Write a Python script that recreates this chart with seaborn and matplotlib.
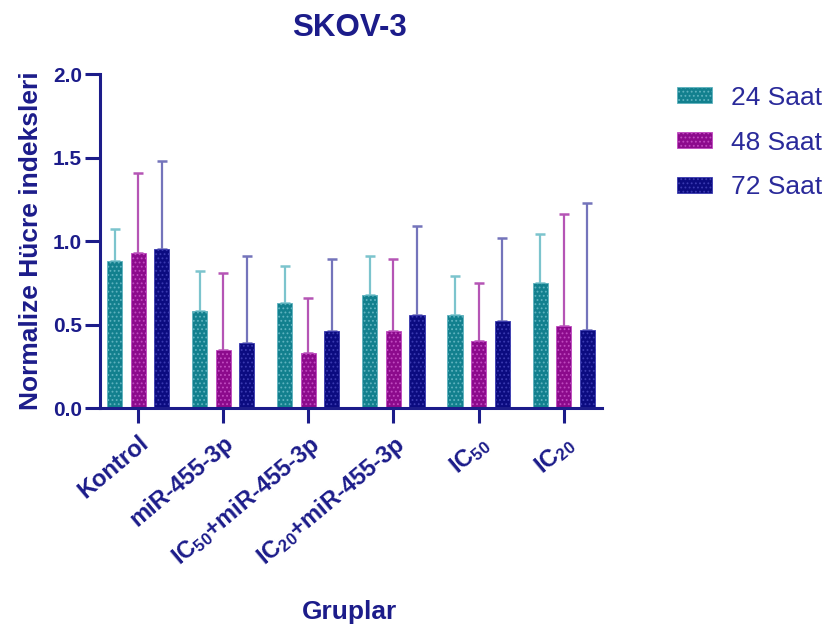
import numpy as np
import pandas as pd
import matplotlib
matplotlib.use("Agg")
import matplotlib.pyplot as plt
import seaborn as sns

# Groups, time points and measured values (mean and upper SD)
groups = ["Kontrol", "miR-455-3p", "IC$_{50}$+miR-455-3p",
          "IC$_{20}$+miR-455-3p", "IC$_{50}$", "IC$_{20}$"]
times = ["24 Saat", "48 Saat", "72 Saat"]

mean_24 = [0.88, 0.58, 0.63, 0.68, 0.56, 0.75]
mean_48 = [0.93, 0.35, 0.33, 0.46, 0.40, 0.49]
mean_72 = [0.95, 0.39, 0.46, 0.56, 0.52, 0.47]

sd_24 = [0.19, 0.24, 0.22, 0.23, 0.23, 0.29]
sd_48 = [0.48, 0.46, 0.33, 0.43, 0.35, 0.67]
sd_72 = [0.53, 0.52, 0.43, 0.53, 0.50, 0.76]

y_ticks = [0.0, 0.5, 1.0, 1.5, 2.0]

bar_colors = ["#12808e", "#8c0a8c", "#0b0b80"]
light_colors = ["#5fb3bf", "#c04ac0", "#3a3ab0"]
err_colors = ["#7cc4cd", "#b555b5", "#7474bb"]
ink = "#1c1c8a"

sns.set_theme(style="ticks")
plt.rcParams["font.family"] = ["Liberation Sans", "DejaVu Sans"]
plt.rcParams["mathtext.fontset"] = "custom"
plt.rcParams["mathtext.rm"] = "Liberation Sans"
plt.rcParams["mathtext.default"] = "regular"
plt.rcParams["hatch.linewidth"] = 0.8

means = [mean_24, mean_48, mean_72]
sds = [sd_24, sd_48, sd_72]
df = pd.DataFrame({
    "grup": np.tile(groups, len(times)),
    "saat": np.repeat(times, len(groups)),
    "deger": np.concatenate(means),
})

fig = plt.figure(figsize=(8.35, 6.4), dpi=100)
ax = fig.add_axes([0.1198, 0.3625, 0.601, 0.5215])

sns.barplot(data=df, x="grup", y="deger", hue="saat", order=groups,
            hue_order=times, palette=bar_colors, width=0.83, gap=0.36,
            errorbar=None, legend=False, ax=ax, saturation=1)

bar_containers = list(ax.containers)
handles = []
for i, cont in enumerate(bar_containers):
    xs = []
    for p in cont:
        p.set_hatch("....")
        p.set_edgecolor(light_colors[i])
        p.set_linewidth(0.6)
        xs.append(p.get_x() + p.get_width() / 2)
    m = np.array(means[i])
    s = np.array(sds[i])
    ax.errorbar(xs, m, yerr=[np.zeros_like(s), s], fmt="none",
                ecolor=err_colors[i], elinewidth=1.6, capsize=3.5,
                capthick=1.8, zorder=0.5)
    handles.append(cont[0])

ax.set_ylim(0, 2.0)
ax.set_xlim(-0.45, 5.45)
ax.set_yticks(y_ticks)
ax.set_yticklabels([f"{v:.1f}" for v in y_ticks])
sns.despine(ax=ax)
for side in ["left", "bottom"]:
    ax.spines[side].set_color(ink)
    ax.spines[side].set_linewidth(2.2)
ax.tick_params(axis="both", colors=ink, width=2.2, length=11)
ax.tick_params(axis="y", labelsize=15, pad=2)
ax.tick_params(axis="x", labelsize=17, pad=6)
for lab in ax.get_yticklabels():
    lab.set_fontweight("bold")
for lab in ax.get_xticklabels():
    lab.set_fontweight("bold")
    lab.set_rotation(40)
    lab.set_ha("right")
    lab.set_rotation_mode("anchor")

ax.set_xlabel("")
ax.set_ylabel("Normalize Hücre indeksleri", fontsize=19,
              fontweight="bold", color=ink, labelpad=7)
fig.text(0.418, 0.044, "Gruplar", fontsize=19, fontweight="bold",
         color=ink, ha="center", va="center")
fig.text(0.418, 0.956, "SKOV-3", fontsize=22.5, fontweight="bold",
         color=ink, ha="center", va="center")

leg = fig.legend(handles, times, loc="upper left",
                 bbox_to_anchor=(0.811, 0.866), frameon=False,
                 fontsize=19, handlelength=1.32, handleheight=0.55,
                 handletextpad=0.72, labelspacing=0.79, borderpad=0,
                 borderaxespad=0)
for t in leg.get_texts():
    t.set_color("#2a2a9a")

fig.savefig("out.png", dpi=100)
